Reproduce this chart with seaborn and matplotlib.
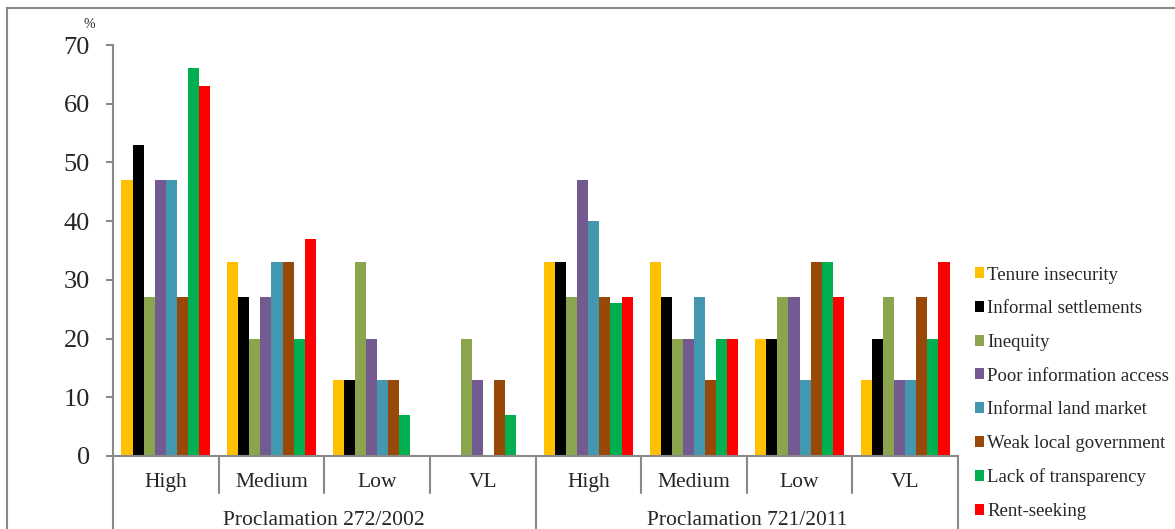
import pandas as pd
import matplotlib.pyplot as plt
import matplotlib.patches as mpatches
import matplotlib.transforms as mtransforms
import seaborn as sns

# --- data ---
proclamations = ['Proclamation 272/2002', 'Proclamation 721/2011']
levels = ['High', 'Medium', 'Low', 'VL']
problems = ['Tenure insecurity', 'Informal settlements', 'Inequity',
            'Poor information access', 'Informal land market',
            'Weak local government', 'Lack of transparency', 'Rent-seeking']

# one list per problem, order: 272 High/Medium/Low/VL then 721 High/Medium/Low/VL
tenure_insecurity = [47, 33, 13, 0, 33, 33, 20, 13]
informal_settlements = [53, 27, 13, 0, 33, 27, 20, 20]
inequity = [27, 20, 33, 20, 27, 20, 27, 27]
poor_information_access = [47, 27, 20, 13, 47, 20, 27, 13]
informal_land_market = [47, 33, 13, 0, 40, 27, 13, 13]
weak_local_government = [27, 33, 13, 13, 27, 13, 33, 27]
lack_of_transparency = [66, 20, 7, 7, 26, 20, 33, 20]
rent_seeking = [63, 37, 0, 0, 27, 20, 27, 33]

colors = ['#FFC000', '#000000', '#8BA54E', '#735A91',
          '#4398B0', '#984807', '#00B050', '#FF0000']

series = [tenure_insecurity, informal_settlements, inequity,
          poor_information_access, informal_land_market,
          weak_local_government, lack_of_transparency, rent_seeking]

groups = [f'{p}|{lv}' for p in proclamations for lv in levels]
rows = []
for name, vals in zip(problems, series):
    for g, v in zip(groups, vals):
        rows.append({'group': g, 'problem': name, 'value': v})
df = pd.DataFrame(rows)

sns.set_style('white')
plt.rcParams['font.family'] = ['Liberation Serif', 'DejaVu Serif']

W, H = 1175, 529
fig = plt.figure(figsize=(W / 100, H / 100), dpi=100)
ax = fig.add_axes([113 / W, 1 - 456 / H, (958 - 113) / W, (456 - 45) / H])

sns.barplot(data=df, x='group', y='value', hue='problem', order=groups,
            hue_order=problems, palette=colors, width=0.84, gap=0,
            linewidth=0, saturation=1, ax=ax, legend=True)

grey = '#898989'
ax.set_xlim(-0.5, len(groups) - 0.5)
ax.set_ylim(0, 70)
ax.set_yticks(range(0, 71, 10))
ax.tick_params(axis='y', labelsize=19, length=5, width=1.5, color=grey,
               direction='out', pad=11.5, left=True)
ax.tick_params(axis='x', bottom=False, labelbottom=False)
ax.set_xlabel('')
ax.set_ylabel('')
for s in ['top', 'right']:
    ax.spines[s].set_visible(False)
for s in ['left', 'bottom']:
    ax.spines[s].set_color(grey)
    ax.spines[s].set_linewidth(1.5)

# multi-level category axis
trans = mtransforms.blended_transform_factory(ax.transData, ax.transAxes)
for i in range(len(groups) + 1):
    x = i - 0.5
    outer = i % len(levels) == 0
    ax.plot([x, x], [0, -0.25 if outer else -0.09], color=grey, lw=1.5,
            transform=trans, clip_on=False)
for i, g in enumerate(groups):
    ax.text(i, -0.064, g.split('|')[1], transform=trans, ha='center',
            va='center', fontsize=15.5)
for j, p in enumerate(proclamations):
    xc = j * len(levels) + (len(levels) - 1) / 2
    ax.text(xc, -0.156, p, transform=trans, ha='center', va='center',
            fontsize=15.5)

fig.text(89 / W, 1 - 24 / H, '%', ha='center', va='center', fontsize=10)

# legend on the right
handles, labels = ax.get_legend_handles_labels()
ax.get_legend().remove()
fig.legend(handles, labels, loc='upper left',
           bbox_to_anchor=(967 / W, 1 - 259 / H), frameon=False,
           fontsize=13.5, labelspacing=0.89, handlelength=0.53,
           handleheight=0.53, handletextpad=0.16, borderaxespad=0)

# chart area border
fig.patches.append(mpatches.Rectangle((7 / W, -0.02), 1.05, 1 - 8 / H + 0.02,
                                      transform=fig.transFigure, fill=False,
                                      edgecolor=grey, lw=1.5))

fig.savefig('out.png', dpi=100)
